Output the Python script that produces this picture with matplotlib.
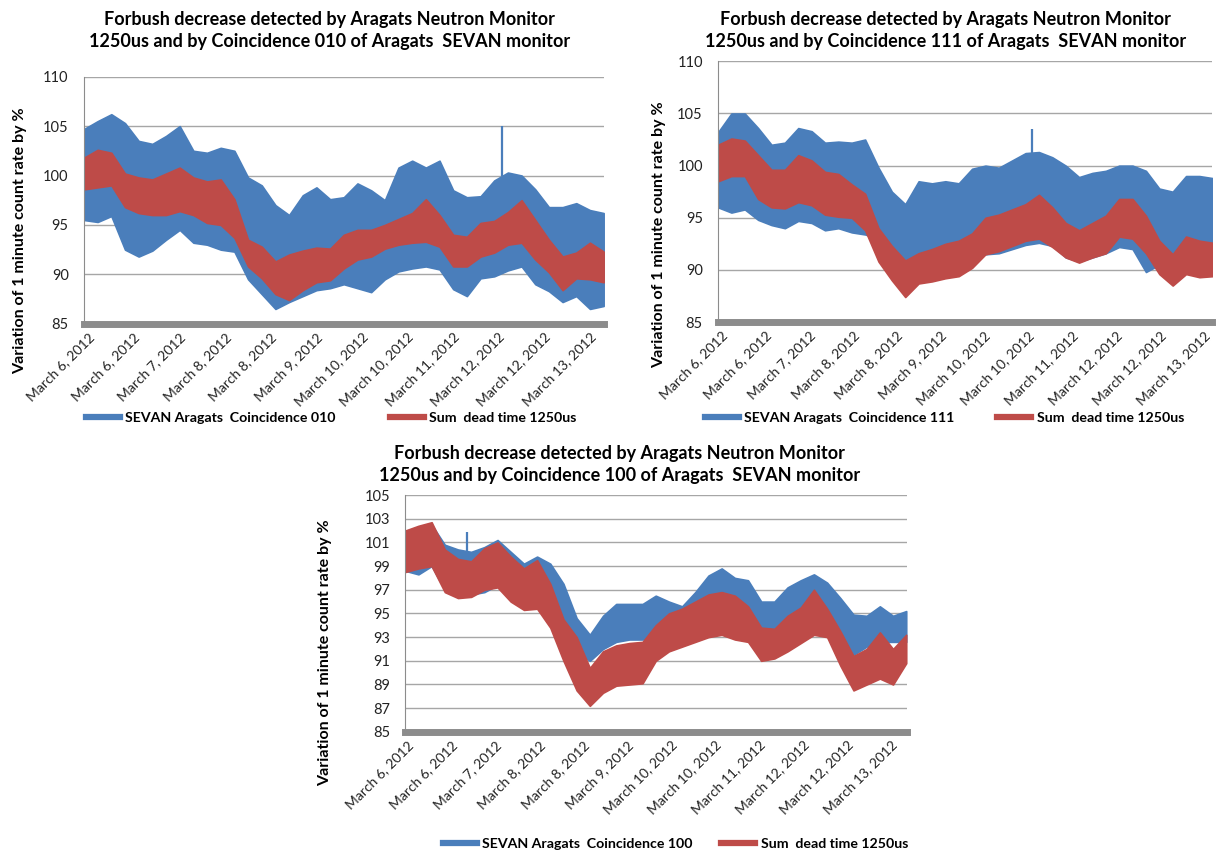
import numpy as np
import matplotlib
matplotlib.use('Agg')
import matplotlib.pyplot as plt
import matplotlib.transforms as mtransforms
from matplotlib.lines import Line2D

plt.rcParams['font.family'] = ['Lato', 'DejaVu Sans']

BLUE = '#4A7EBB'
RED = '#BE4B48'
GRID = '#A6A6A6'

date_labels = ['March 6, 2012', 'March 6, 2012', 'March 7, 2012', 'March 8, 2012',
               'March 8, 2012', 'March 9, 2012', 'March 10, 2012', 'March 10, 2012',
               'March 11, 2012', 'March 12, 2012', 'March 12, 2012', 'March 13, 2012']

# --- panel 1 : coincidence 010 (envelopes, x in label steps)
p1_start, p1_step = -0.09, 0.3
p1_blue_up = [104.7, 105.5, 106.2, 105.3, 103.5, 103.2, 104.0, 105.0, 102.5, 102.3,
              102.8, 102.5, 99.8, 99.0, 97.0, 96.0, 98.0, 98.8, 97.6, 97.8,
              99.2, 98.5, 97.5, 100.8, 101.5, 100.8, 101.5, 98.5, 97.8, 97.9,
              99.5, 100.3, 100.0, 98.6, 96.8, 96.8, 97.2, 96.5, 96.2]
p1_blue_lo = [95.5, 95.3, 95.9, 92.5, 91.8, 92.4, 93.5, 94.5, 93.2, 93.0,
              92.5, 92.3, 89.5, 88.0, 86.5, 87.2, 87.8, 88.4, 88.6, 89.0,
              88.6, 88.2, 89.5, 90.3, 90.6, 90.8, 90.5, 88.5, 87.8, 89.6,
              89.8, 90.4, 90.8, 89.0, 88.3, 87.2, 87.8, 86.5, 86.8]
p1_red_up = [101.8, 102.6, 102.3, 100.2, 99.8, 99.6, 100.2, 100.8, 99.8, 99.4,
             99.6, 97.6, 93.5, 92.8, 91.3, 92.0, 92.4, 92.7, 92.6, 94.0,
             94.5, 94.5, 95.0, 95.6, 96.2, 97.6, 96.0, 94.0, 93.8, 95.2,
             95.4, 96.3, 97.5, 95.5, 93.5, 91.8, 92.2, 93.2, 92.3]
p1_red_lo = [98.6, 98.8, 99.0, 96.8, 96.2, 96.0, 96.0, 96.4, 96.0, 95.2,
             95.0, 93.7, 90.8, 89.6, 88.0, 87.4, 88.4, 89.2, 89.4, 90.6,
             91.5, 91.8, 92.6, 93.0, 93.2, 93.3, 92.8, 90.8, 90.8, 91.8,
             92.2, 93.0, 93.2, 91.5, 90.2, 88.4, 89.6, 89.5, 89.2]
p1_spike_x = [9.07]
p1_spike_v = [105.0]

# --- panel 2 : coincidence 111
p2_start, p2_step = -0.07, 0.305
p2_blue_up = [103.2, 105.0, 105.0, 103.6, 102.0, 102.2, 103.6, 103.3, 102.2, 102.3,
              102.2, 102.5, 99.8, 97.5, 96.3, 98.5, 98.3, 98.5, 98.3, 99.7,
              100.0, 99.8, 100.5, 101.2, 101.3, 100.8, 100.0, 98.9, 99.3, 99.5,
              100.0, 100.0, 99.5, 97.8, 97.5, 99.0, 99.0, 98.8]
p2_blue_lo = [96.0, 95.5, 95.8, 94.8, 94.3, 94.0, 94.7, 94.5, 93.8, 94.0,
              93.6, 93.4, 93.0, 92.0, 91.0, 91.5, 91.8, 92.0, 92.0, 91.8,
              91.5, 91.6, 92.0, 92.4, 92.6, 92.3, 91.2, 90.8, 91.2, 91.6,
              92.2, 92.0, 89.8, 90.5, 90.0, 90.8, 90.6, 91.0]
p2_red_up = [102.0, 102.6, 102.4, 101.0, 99.6, 99.6, 101.0, 100.5, 99.4, 99.2,
             98.2, 97.3, 94.0, 92.3, 90.9, 91.6, 92.0, 92.5, 92.8, 93.5,
             95.0, 95.3, 95.8, 96.3, 97.2, 96.0, 94.5, 93.8, 94.5, 95.2,
             96.8, 96.8, 95.2, 92.8, 91.5, 93.2, 92.8, 92.6]
p2_red_lo = [98.5, 99.0, 99.0, 96.8, 96.0, 95.9, 96.5, 96.2, 95.3, 95.1,
             95.0, 93.8, 90.8, 89.0, 87.4, 88.7, 88.9, 89.2, 89.4, 90.2,
             91.5, 91.8, 92.3, 92.8, 93.0, 92.2, 91.2, 90.7, 91.2, 91.6,
             93.2, 93.0, 91.6, 89.6, 88.5, 89.6, 89.3, 89.4]
p2_spike_x = [7.1]
p2_spike_v = [103.5]

# --- panel 3 : coincidence 100
p3_start, p3_step = -0.05, 0.3
p3_blue_up = [101.5, 101.8, 102.5, 100.8, 100.4, 100.2, 100.6, 101.2, 100.2, 99.2,
              99.8, 99.2, 97.5, 94.6, 93.2, 94.8, 95.8, 95.8, 95.8, 96.5,
              96.0, 95.6, 96.8, 98.2, 98.8, 98.0, 97.8, 96.0, 96.0, 97.2,
              97.8, 98.3, 97.6, 96.3, 94.9, 94.8, 95.6, 94.8, 95.2]
p3_blue_lo = [98.6, 98.3, 99.0, 97.0, 96.6, 96.6, 96.8, 97.4, 96.4, 95.6,
              96.0, 95.4, 93.0, 91.8, 91.0, 92.0, 92.6, 92.8, 92.8, 93.0,
              92.5, 92.8, 93.0, 93.2, 93.5, 93.6, 93.3, 92.4, 92.6, 93.0,
              93.3, 93.5, 93.3, 92.5, 91.5, 92.2, 92.6, 92.6, 92.6]
p3_red_up = [102.0, 102.4, 102.7, 100.4, 99.6, 99.4, 100.5, 101.0, 99.8, 98.8,
             99.5, 97.5, 94.5, 93.0, 90.4, 91.8, 92.3, 92.5, 92.6, 94.0,
             95.0, 95.4, 96.0, 96.6, 96.8, 96.5, 95.6, 93.8, 93.7, 94.8,
             95.5, 97.0, 95.4, 93.5, 91.4, 92.0, 93.4, 92.0, 93.2]
p3_red_lo = [98.5, 98.8, 99.0, 96.8, 96.3, 96.4, 97.0, 97.2, 96.0, 95.3,
             95.4, 93.8, 91.0, 88.5, 87.2, 88.3, 88.9, 89.0, 89.1, 91.0,
             91.8, 92.2, 92.6, 93.0, 93.2, 92.8, 92.6, 91.0, 91.2, 91.8,
             92.5, 93.2, 93.0, 90.6, 88.5, 89.0, 89.5, 89.0, 90.8]
p3_spike_x = [1.36]
p3_spike_v = [101.9]

title_1 = 'Forbush decrease detected by Aragats Neutron Monitor'
ylabel = 'Variation of 1 minute count rate by %'


def panel(fig, rect, start, step, bu, bl, ru, rl, sx, sv, xlim, ylim, yticks,
          coinc, title_xy, ylab_x, leg_xy, colsp):
    ax = fig.add_axes(rect)
    x = start + step * np.arange(len(bu))
    ax.fill_between(x, bl, bu, color=BLUE, lw=1.2, edgecolor=BLUE)
    # isolated spikes rise from the top of the blue band
    ax.vlines(sx, np.interp(sx, x, bu), sv, color=BLUE, lw=1.6)
    ax.fill_between(x, rl, ru, color=RED, lw=1.2, edgecolor=RED)

    ax.set_xlim(*xlim)
    ax.set_ylim(*ylim)
    ax.set_yticks(yticks)
    ax.set_xticks(range(len(date_labels)))
    ax.set_xticklabels(date_labels, rotation=45, ha='right', va='top',
                       rotation_mode='anchor', fontsize=10, color='#222222')
    shift = mtransforms.ScaledTranslation(-10 / 100, 0, fig.dpi_scale_trans)
    for lab in ax.get_xticklabels():
        lab.set_transform(lab.get_transform() + shift)
    ax.tick_params(axis='x', length=0, pad=5)
    ax.tick_params(axis='y', length=0, pad=11, labelsize=10.5, labelcolor='#222222')
    ax.grid(axis='y', color=GRID, lw=1)
    ax.set_axisbelow(True)
    for s in ['top', 'right']:
        ax.spines[s].set_visible(False)
    ax.spines['left'].set_color('#8C8C8C')
    ax.spines['bottom'].set_color('#8C8C8C')
    ax.spines['bottom'].set_linewidth(5)
    ax.set_ylabel(ylabel, fontsize=11.5, fontweight='bold')
    ax.yaxis.set_label_coords(ylab_x, 0.335)

    fig.text(title_xy[0], title_xy[1], title_1 + '\n1250us and by Coincidence ' + coinc +
             ' of Aragats  SEVAN monitor', ha='center', va='top',
             fontsize=13, fontweight='bold', linespacing=1.35)

    handles = [Line2D([], [], color=BLUE, lw=4.5), Line2D([], [], color=RED, lw=4.5)]
    fig.legend(handles, ['SEVAN Aragats  Coincidence ' + coinc, 'Sum  dead time 1250us'],
               loc='center', bbox_to_anchor=leg_xy, ncol=2, frameon=False,
               prop={'weight': 'bold', 'size': 10.2},
               handlelength=2.4, handletextpad=0.4, columnspacing=colsp)
    return ax


fig = plt.figure(figsize=(12.17, 8.52), dpi=100)

panel(fig, [0.069, 0.620, 0.427, 0.290], p1_start, p1_step,
      p1_blue_up, p1_blue_lo, p1_red_up, p1_red_lo, p1_spike_x, p1_spike_v,
      (-0.09, 11.31), (85, 110), range(85, 111, 5), '010', (0.271, 0.987), -0.11,
      (0.272, 0.509), 3.8)

panel(fig, [0.590, 0.622, 0.406, 0.306], p2_start, p2_step,
      p2_blue_up, p2_blue_lo, p2_red_up, p2_red_lo, p2_spike_x, p2_spike_v,
      (-0.07, 11.2), (85, 110), range(85, 111, 5), '111', (0.777, 0.987), -0.105,
      (0.776, 0.509), 3.0)

panel(fig, [0.333, 0.141, 0.412, 0.278], p3_start, p3_step,
      p3_blue_up, p3_blue_lo, p3_red_up, p3_red_lo, p3_spike_x, p3_spike_v,
      (-0.05, 11.36), (85, 105), range(85, 106, 2), '100', (0.509, 0.478), -0.145,
      (0.555, 0.009), 2.0)

fig.savefig('out.png', dpi=100)
